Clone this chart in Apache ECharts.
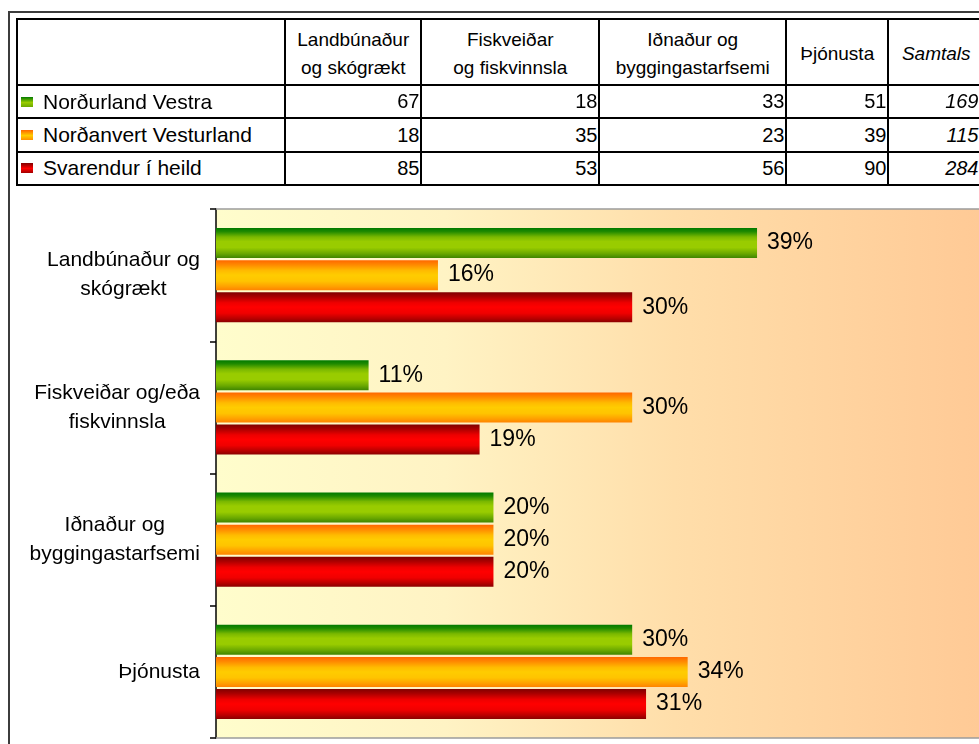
<!DOCTYPE html>
<html>
<head>
<meta charset="utf-8">
<script src="https://cdn.jsdelivr.net/npm/echarts@6/dist/echarts.min.js"></script>
<style>
  html, body { margin: 0; padding: 0; background: #fff; overflow: hidden; }
  #chart { position: absolute; left: 0; top: 0; width: 979px; height: 744px; }
  #frame { position: absolute; left: 8px; top: 11px; width: 1000px; height: 800px;
           border-left: 2px solid #3c3c3c; border-top: 2px solid #3c3c3c; pointer-events: none; }
  #table { position: absolute; left: 0; top: 0; font-family: 'Liberation Sans', Arial, sans-serif; color: #000; }
  .cell { position: absolute; box-sizing: border-box; border: 2.5px solid #000; display: flex;
          align-items: center; background: #fff; white-space: pre; overflow: hidden; }
  .head { justify-content: center; text-align: center; font-size: 19px; line-height: 28px; padding-top: 3px; }
  .name { font-size: 21px; padding-left: 1px; }
  .num  { justify-content: flex-end; font-size: 20px; padding-right: 1px; }
  .ital { font-style: italic; }
  .last { padding-right: 5px; padding-left: 0; }
  .mark { display: inline-block; width: 12px; height: 10px; margin: 0 10px 0 2px; }
</style>
</head>
<body>
<div id="chart"></div>
<div id="frame"></div>
<div id="table"></div>
<script>
// Sectors on the bar chart's category axis
const categoryLabels = ['Landbúnaður og\nskógrækt', 'Fiskveiðar og/eða\nfiskvinnsla', 'Iðnaður og\nbyggingastarfsemi', 'Þjónusta'];

// Column headings of the summary table
const tableHeaders = ['Landbúnaður\nog skógrækt', 'Fiskveiðar\nog fiskvinnsla', 'Iðnaður og\nbyggingastarfsemi', 'Þjónusta', 'Samtals'];

// Respondent groups
const regions = ['Norðurland Vestra', 'Norðanvert Vesturland', 'Svarendur í heild'];

// Answer counts per sector
const countsNordurland = [67, 18, 33, 51];
const countsVesturland = [18, 35, 23, 39];
const countsAll = [85, 53, 56, 90];
const totals = [169, 115, 284];

// Share of each group by sector (%)
const pctNordurland = [39, 11, 20, 30];
const pctVesturland = [16, 30, 20, 34];
const pctAll = [30, 19, 20, 31];

// ---- styling ----
const FONT = "'Liberation Sans', Arial, sans-serif";
function vGrad(stops) {
  return new echarts.graphic.LinearGradient(0, 0, 0, 1,
    stops.map(([o, c]) => ({ offset: o, color: c })));
}
const greenFill = vGrad([[0, '#007a00'], [0.12, '#208a00'], [0.3, '#7ab800'], [0.45, '#99cc00'],
                         [0.65, '#99cc00'], [0.85, '#6aa800'], [1, '#3e8500']]);
const orangeFill = vGrad([[0, '#ff6600'], [0.15, '#ff8800'], [0.35, '#ffbb00'], [0.5, '#ffcc00'],
                          [0.7, '#ffc400'], [0.88, '#ffa000'], [1, '#ff8400']]);
const redFill = vGrad([[0, '#800000'], [0.15, '#aa0000'], [0.35, '#ee0000'], [0.5, '#ff0000'],
                       [0.7, '#f00000'], [0.88, '#b80000'], [1, '#8a0000']]);
const fills = [greenFill, orangeFill, redFill];
const cssFills = [
  'linear-gradient(#007a00, #99cc00 55%, #6aa800)',
  'linear-gradient(#ff6600, #ffcc00 55%, #ff9000)',
  'linear-gradient(#800000, #ff0000 55%, #a00000)'
];

// ---- summary table ----
const colX = [17, 285, 421, 599, 786, 888, 984];
const rowY = [19, 85, 118, 152, 184];
const tableEl = document.getElementById('table');
function addCell(c, r, html, cls) {
  const d = document.createElement('div');
  d.className = 'cell ' + cls;
  d.style.left = (colX[c] - 1) + 'px';
  d.style.top = (rowY[r] - 1) + 'px';
  d.style.width = (colX[c + 1] - colX[c] + 2.5) + 'px';
  d.style.height = (rowY[r + 1] - rowY[r] + 2.5) + 'px';
  d.innerHTML = html;
  tableEl.appendChild(d);
}
addCell(0, 0, '', 'head');
tableHeaders.forEach((h, i) => addCell(i + 1, 0, '<span>' + h + '</span>', 'head' + (i === 4 ? ' ital' : '')));
const countRows = [countsNordurland, countsVesturland, countsAll];
regions.forEach((name, r) => {
  addCell(0, r + 1, '<span class="mark" style="background:' + cssFills[r] + '"></span>' + name, 'name');
  countRows[r].forEach((v, c) => addCell(c + 1, r + 1, String(v), 'num'));
  addCell(5, r + 1, String(totals[r]), 'num ital last');
});

// ---- bar chart ----
const chart = echarts.init(document.getElementById('chart'), null, { renderer: 'canvas' });
const pctRows = [pctNordurland, pctVesturland, pctAll];
const frameAxis = (pos) => ({
  type: 'value', min: 0, max: 55, position: pos,
  axisLine: { show: true, onZero: false, lineStyle: { color: '#9c9c9c', width: 1.5 } },
  axisTick: { show: false }, axisLabel: { show: false }, splitLine: { show: false }
});
chart.setOption({
  animation: false,
  backgroundColor: '#ffffff',
  textStyle: { fontFamily: FONT },
  grid: {
    left: 216, right: 0, top: 209, bottom: 6,
    show: true,
    borderWidth: 0,
    backgroundColor: new echarts.graphic.LinearGradient(0, 0, 1, 0, [
      { offset: 0, color: '#fffdcc' },
      { offset: 0.3, color: '#fff3c4' },
      { offset: 0.6, color: '#ffdeaa' },
      { offset: 1, color: '#ffca96' }
    ])
  },
  xAxis: [frameAxis('bottom'), frameAxis('top')],
  yAxis: {
    type: 'category',
    inverse: true,
    data: categoryLabels,
    axisLine: { show: true, lineStyle: { color: '#000', width: 1.5 } },
    axisTick: { show: true, length: 6, lineStyle: { color: '#000', width: 1.5 } },
    axisLabel: {
      interval: 0,
      margin: 16,
      align: 'right',
      color: '#000',
      formatter: v => v.split('\n').map(l => '{c|' + l + '}').join('\n'),
      rich: { c: { align: 'center', fontSize: 21, lineHeight: 29, fontFamily: FONT, color: '#000' } }
    }
  },
  series: regions.map((name, i) => ({
    name: name,
    type: 'bar',
    xAxisIndex: 0,
    data: pctRows[i],
    barWidth: 30,
    barGap: '7%',
    itemStyle: { color: fills[i] },
    label: {
      show: true,
      position: 'right',
      distance: 10,
      formatter: '{c}%',
      fontSize: 23,
      fontFamily: FONT,
      color: '#000'
    }
  }))
});
</script>
</body>
</html>
